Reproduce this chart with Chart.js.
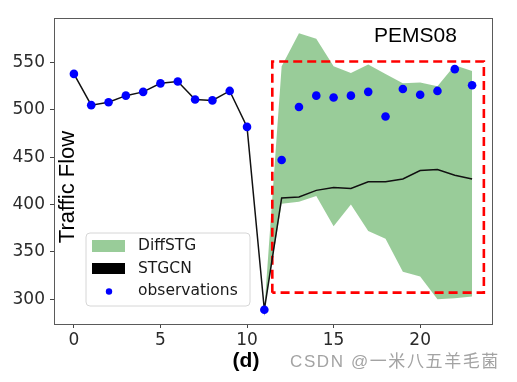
<!DOCTYPE html>
<html>
<head>
<meta charset="utf-8">
<script src="https://cdn.jsdelivr.net/npm/chart.js@4/dist/chart.umd.min.js"></script>
<style>
  html, body { margin: 0; padding: 0; background: #ffffff; }
  #wrap { position: relative; width: 517px; height: 382px; }
</style>
</head>
<body>
<div id="wrap"><canvas id="c" width="517" height="382"></canvas></div>
<script>
// ---- data ----
const timeSteps = [0,1,2,3,4,5,6,7,8,9,10,11,12,13,14,15,16,17,18,19,20,21,22,23];
const observations = [538,505,508,515,519,528,530,511,510,520,482,289,447,503,515,513,515,519,493,522,516,520,543,526];
const stgcn = [538,505,508,515,519,528,530,511,510,520,482,289,407,408,415,418,417,424,424,427,436,437,431,427];
const bandSteps = [11,12,13,14,15,16,17,18,19,20,21,22,23];
const diffstgUpper = [289,546,581,575,546,539,548,538,528,529,525,547,541];
const diffstgLower = [289,401,403,409,377,400,372,364,329,324,300,301,303];
const boxX = [11.46, 11.46, 23.68, 23.68, 11.46];
const boxY = [307, 551, 551, 307, 307];
const xTicks = [0, 5, 10, 15, 20];
const yTicks = [300, 350, 400, 450, 500, 550];
const legendLabels = ['DiffSTG', 'STGCN', 'observations'];
const titleText = 'PEMS08';
const yAxisTitle = 'Traffic Flow';
const panelLabel = '(d)';
const watermark = 'CSDN @一米八五羊毛菌';

const GREEN = 'rgba(0,128,0,0.4)';
const pts = (xs, ys) => xs.map((x, i) => ({ x: x, y: ys[i] }));

const overlay = {
  id: 'overlay',
  afterDraw(chart) {
    const ctx = chart.ctx;
    const a = chart.chartArea;
    ctx.save();
    // frame (spines)
    ctx.strokeStyle = '#5a5a5a';
    ctx.lineWidth = 1;
    ctx.strokeRect(Math.round(a.left) + 0.5, Math.round(a.top) + 0.5,
                   Math.round(a.right - a.left), Math.round(a.bottom - a.top));

    // title inside plot
    ctx.fillStyle = '#000';
    ctx.font = '21px "Liberation Sans", Arial, sans-serif';
    ctx.textAlign = 'left';
    ctx.textBaseline = 'alphabetic';
    ctx.fillText(titleText, 374, 42);

    // y axis label (inside plot, rotated)
    ctx.save();
    ctx.translate(73.5, 187);
    ctx.rotate(-Math.PI / 2);
    ctx.textAlign = 'center';
    ctx.font = '22px "Liberation Sans", Arial, sans-serif';
    ctx.fillText(yAxisTitle, 0, 0);
    ctx.restore();

    // legend
    const lx = 86, ly = 233, lw = 164, lh = 73, r = 4;
    ctx.beginPath();
    ctx.moveTo(lx + r, ly);
    ctx.arcTo(lx + lw, ly, lx + lw, ly + lh, r);
    ctx.arcTo(lx + lw, ly + lh, lx, ly + lh, r);
    ctx.arcTo(lx, ly + lh, lx, ly, r);
    ctx.arcTo(lx, ly, lx + lw, ly, r);
    ctx.closePath();
    ctx.fillStyle = 'rgba(255,255,255,0.85)';
    ctx.fill();
    ctx.strokeStyle = '#d6d6d6';
    ctx.lineWidth = 1;
    ctx.stroke();

    ctx.fillStyle = GREEN;
    ctx.fillRect(92, 240, 33, 12);
    ctx.fillStyle = '#000';
    ctx.fillRect(92, 263, 33, 11);
    ctx.fillStyle = '#0000ff';
    ctx.beginPath();
    ctx.arc(109, 291.5, 3.2, 0, Math.PI * 2);
    ctx.fill();

    ctx.fillStyle = '#1a1a1a';
    ctx.font = '15.5px "DejaVu Sans", sans-serif';
    ctx.textBaseline = 'middle';
    ctx.textAlign = 'left';
    ctx.fillText(legendLabels[0], 138, 246);
    ctx.fillText(legendLabels[1], 138, 268.5);
    ctx.fillText(legendLabels[2], 138, 291);

    // panel label
    ctx.fillStyle = '#000';
    ctx.font = 'bold 21px "Liberation Sans", Arial, sans-serif';
    ctx.textAlign = 'center';
    ctx.fillText(panelLabel, 246, 361);

    // watermark
    ctx.fillStyle = '#a3a3a3';
    ctx.font = '17px "Liberation Sans", "Noto Sans CJK SC", sans-serif';
    ctx.textAlign = 'left';
    try { ctx.letterSpacing = '1.6px'; } catch (e) {}
    ctx.fillText(watermark, 290, 362);
    ctx.restore();
  }
};

new Chart(document.getElementById('c'), {
  type: 'scatter',
  data: {
    datasets: [
      { label: legendLabels[0], data: pts(bandSteps, diffstgUpper), showLine: true,
        borderWidth: 0, borderColor: 'rgba(0,0,0,0)', pointRadius: 0,
        backgroundColor: GREEN, fill: '+1', tension: 0, order: 4 },
      { label: 'lower', data: pts(bandSteps, diffstgLower), showLine: true,
        borderWidth: 0, borderColor: 'rgba(0,0,0,0)', pointRadius: 0,
        fill: false, tension: 0, order: 5 },
      { label: 'box', data: pts(boxX, boxY), showLine: true, borderColor: '#ff0000',
        borderWidth: 2.6, borderDash: [9, 5], pointRadius: 0, fill: false, order: 2 },
      { label: legendLabels[1], data: pts(timeSteps, stgcn), showLine: true,
        borderColor: '#111', borderWidth: 1.5, pointRadius: 0, fill: false, tension: 0, order: 1 },
      { label: legendLabels[2], data: pts(timeSteps, observations), showLine: false,
        backgroundColor: '#0000ff', borderColor: '#0000ff', pointRadius: 4.3, borderWidth: 0, order: 0 }
    ]
  },
  options: {
    responsive: false,
    devicePixelRatio: 1,
    animation: false,
    layout: { padding: { top: 18, right: 25, left: 0, bottom: 0 } },
    plugins: { legend: { display: false }, tooltip: { enabled: false } },
    scales: {
      x: {
        type: 'linear', min: -1.15, max: 24.15,
        afterBuildTicks: (s) => { s.ticks = xTicks.map(v => ({ value: v })); },
        afterFit: (s) => { s.height = 58; },
        grid: { drawOnChartArea: false, drawTicks: true, tickLength: 4, tickColor: '#444' },
        border: { display: false },
        ticks: { font: { size: 17, family: '"DejaVu Sans", sans-serif' }, color: '#2a2a2a', padding: 2, maxRotation: 0 }
      },
      y: {
        type: 'linear', min: 273.9, max: 597,
        afterBuildTicks: (s) => { s.ticks = yTicks.map(v => ({ value: v })); },
        afterFit: (s) => { s.width = 54; },
        grid: { drawOnChartArea: false, drawTicks: true, tickLength: 4, tickColor: '#444' },
        border: { display: false },
        ticks: { font: { size: 17, family: '"DejaVu Sans", sans-serif' }, color: '#2a2a2a', padding: 5 }
      }
    }
  },
  plugins: [overlay]
});
</script>
</body>
</html>
